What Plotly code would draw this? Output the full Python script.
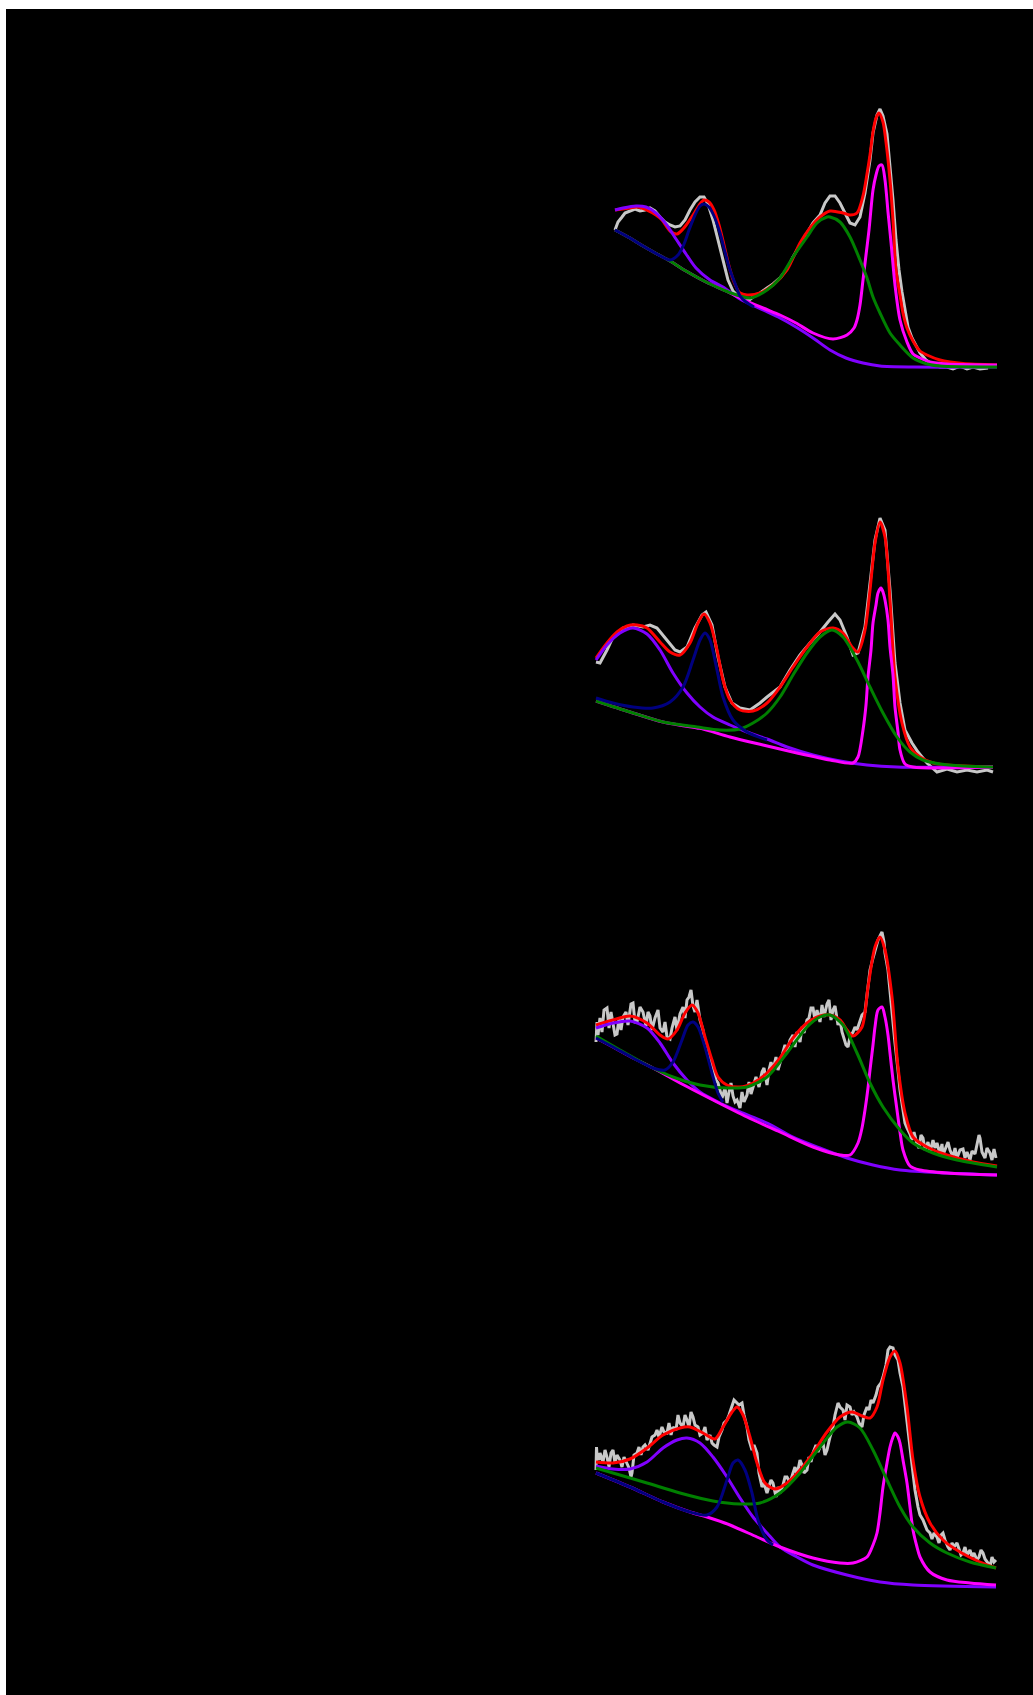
import plotly.graph_objects as go
from plotly.subplots import make_subplots

# ---------------- Panel 1 (channel, intensity a.u.) ----------------
p1_gray_ch = [19, 22, 26, 29, 34, 39, 44, 49, 54, 59, 64, 69, 74, 79, 84, 89, 94, 99, 104, 108, 112, 117, 122, 127, 132, 137, 142, 147, 152, 157, 164, 171, 177, 184, 191, 197, 204, 211, 217, 224, 229, 234, 239, 244, 249, 254, 259, 264, 269, 274, 277, 281, 284, 287, 291, 294, 297, 300, 303, 306, 309, 312, 316, 320, 324, 330, 337, 344, 351, 357, 364, 371, 377, 384, 392]
p1_gray_i = [140, 148, 153, 157, 159, 161, 159, 160, 162, 159, 153, 148, 145, 143, 144, 150, 160, 168, 173, 173, 166, 150, 130, 110, 90, 79, 74, 72, 69, 73, 77, 82, 86, 92, 101, 113, 125, 138, 147, 155, 167, 174, 174, 167, 157, 147, 145, 153, 177, 210, 237, 255, 261, 254, 236, 205, 170, 130, 100, 78, 58, 43, 32, 24, 17, 10, 5, 3, 3, 1, 4, 1, 3, 1, 2]
p1_red_ch = [19, 34, 41, 51, 60, 66, 74, 81, 87, 93, 99, 104, 108, 113, 118, 123, 128, 133, 138, 144, 151, 164, 177, 191, 204, 214, 224, 234, 247, 254, 261, 267, 271, 274, 277, 280, 283, 287, 290, 294, 297, 300, 304, 307, 311, 317, 324, 331, 344, 354, 367, 401]
p1_red_i = [160, 162, 163, 160, 155, 150, 139, 136, 141, 149, 158, 166, 170, 168, 160, 145, 125, 104, 88, 77, 75, 77, 85, 100, 127, 142, 153, 159, 157, 155, 157, 174, 196, 215, 238, 252, 257, 248, 228, 190, 150, 100, 75, 57, 42, 29, 19, 15, 10, 8, 6.5, 5]
p1_violet_ch = [19, 27, 40, 50, 60, 70, 80, 90, 100, 114, 127, 144, 167, 184, 200, 217, 234, 250, 267, 284, 317, 401]
p1_violet_i = [160, 162, 164, 163, 157, 146, 131, 116, 102, 90, 83, 71, 60, 52, 43, 32, 20, 12, 7, 4, 3, 3]
p1_navy_ch = [19, 34, 47, 61, 74, 82, 88, 93, 99, 104, 108, 113, 118, 124, 129, 134, 140, 144, 150, 158]
p1_navy_i = [140, 132, 124, 116, 110, 115, 126, 140, 155, 164, 166, 163, 154, 137, 118, 100, 84, 74, 68, 63]
p1_green_ch = [19, 34, 47, 61, 74, 90, 110, 130, 144, 154, 171, 184, 197, 211, 221, 231, 234, 244, 254, 264, 271, 277, 284, 294, 304, 317, 331, 344, 401]
p1_green_i = [140, 132, 124, 116, 109, 99, 88, 79, 74, 72, 80, 92, 113, 133, 147, 153, 153, 148, 133, 110, 92, 73, 57, 37, 25, 12, 6, 4, 3]
p1_magenta_ch = [19, 34, 47, 61, 74, 90, 110, 130, 144, 167, 184, 200, 217, 237, 251, 258, 261, 264, 267, 270, 273, 277, 280, 283, 286, 289, 292, 295, 299, 304, 311, 317, 324, 334, 351, 401]
p1_magenta_i = [140, 132, 124, 116, 109, 99, 88, 79, 72, 62, 55, 47, 37, 31, 35, 42, 50, 65, 90, 115, 140, 180, 195, 204, 205, 190, 158, 128, 85, 50, 28, 16, 12, 8, 6, 5]

# ---------------- Panel 2 ----------------
p2_gray_ch = [0, 4, 11, 17, 27, 37, 47, 54, 61, 71, 79, 84, 91, 99, 106, 110, 116, 122, 129, 136, 144, 154, 164, 171, 177, 184, 194, 204, 214, 224, 232, 239, 244, 251, 257, 262, 269, 274, 279, 284, 289, 294, 299, 304, 309, 316, 322, 331, 341, 351, 361, 371, 381, 391, 397]
p2_gray_i = [118, 117, 130, 143, 152, 155, 153, 155, 152, 140, 130, 128, 133, 152, 165, 168, 155, 123, 93, 77, 72, 70, 77, 83, 88, 93, 110, 125, 137, 148, 158, 166, 160, 143, 125, 127, 153, 197, 240, 262, 250, 190, 117, 77, 50, 37, 28, 17, 8, 11, 8, 10, 8, 10, 8]
p2_red_ch = [0, 11, 21, 31, 41, 51, 64, 74, 84, 94, 102, 108, 114, 121, 127, 134, 144, 157, 171, 184, 197, 211, 224, 237, 247, 256, 262, 269, 274, 279, 284, 289, 294, 299, 306, 314, 324, 337, 351, 397]
p2_red_i = [122, 137, 148, 154, 155, 152, 138, 128, 125, 137, 157, 166, 157, 130, 100, 80, 70, 69, 77, 93, 113, 133, 148, 152, 147, 133, 128, 150, 190, 237, 258, 243, 180, 103, 57, 33, 23, 17, 15, 13]
p2_violet_ch = [0, 11, 24, 37, 51, 64, 77, 91, 104, 117, 134, 151, 171, 191, 217, 244, 271, 301, 397]
p2_violet_i = [120, 135, 147, 152, 146, 130, 107, 87, 73, 63, 55, 48, 41, 33, 25, 19, 15, 13, 13]
p2_navy_ch = [0, 17, 37, 57, 74, 87, 97, 104, 109, 114, 121, 127, 137, 151, 171]
p2_navy_i = [82, 77, 73, 72, 78, 93, 120, 140, 147, 140, 110, 83, 60, 48, 40]
p2_green_ch = [0, 34, 67, 101, 124, 144, 157, 171, 184, 197, 211, 224, 236, 247, 261, 274, 287, 301, 314, 327, 344, 367, 397]
p2_green_i = [79, 68, 58, 53, 50, 51, 57, 67, 83, 105, 127, 143, 150, 143, 120, 93, 67, 43, 28, 20, 16, 14, 13]
p2_magenta_ch = [0, 34, 67, 101, 107, 134, 167, 201, 234, 257, 262, 267, 270, 272, 275, 277, 280, 282, 285, 287, 289, 292, 294, 297, 299, 302, 304, 309, 317, 397]
p2_magenta_i = [79, 68, 58, 52, 51, 43, 35, 27, 20, 17, 23, 50, 75, 103, 130, 157, 175, 187, 192, 188, 180, 160, 133, 105, 73, 48, 30, 16, 13, 13]

# ---------------- Panel 3 ----------------
p3_gray_ch = [0, 1, 2, 4, 6, 8, 11, 13, 15, 17,
              19, 21, 23, 25, 27, 30, 32, 35, 37, 39,
              41, 44, 47, 50, 52, 54, 56, 59, 62, 64,
              67, 69, 71, 74, 76, 79, 81, 84, 87, 89,
              91, 93, 95, 97, 99, 101, 104, 107, 109, 111,
              113, 115, 117, 120, 122, 124, 126, 129, 131, 133,
              135, 137, 139, 141, 144, 146, 148, 151, 153, 155,
              157, 160, 163, 166, 168, 171, 173, 175, 177, 180,
              182, 184, 187, 189, 191, 194, 197, 199, 201, 204,
              206, 208, 211, 213, 215, 217, 219, 221, 224, 226,
              228, 231, 233, 235, 237, 239, 242, 244, 246, 248,
              250, 252, 254, 257, 259, 261, 264, 266, 269, 272,
              274, 277, 279, 281, 282, 284, 286, 288, 289, 292,
              294, 297, 299, 302, 304, 307, 309, 311, 314, 316,
              318, 321, 323, 325, 327, 329, 332, 334, 337, 339,
              341, 344, 346, 347, 350, 352, 354, 357, 359, 361,
              364, 367, 369, 371, 374, 376, 379, 381, 383, 384,
              386, 389, 391, 394, 396, 398, 400]
p3_gray_i = [138, 158, 145, 162, 148, 170, 172, 152, 168, 158,
             145, 146, 162, 150, 163, 168, 155, 176, 177, 158,
             158, 173, 168, 154, 168, 164, 150, 162, 170, 152,
             148, 158, 143, 141, 152, 163, 150, 166, 173, 162,
             180, 183, 190, 174, 168, 180, 160, 150, 138, 133,
             125, 117, 113, 100, 97, 90, 82, 92, 77, 88,
             97, 84, 78, 80, 72, 88, 78, 85, 98, 86,
             92, 103, 93, 108, 112, 95, 110, 118, 110, 123,
             110, 118, 128, 135, 128, 140, 145, 133, 148, 138,
             153, 147, 160, 162, 172, 172, 160, 170, 158, 175,
             163, 176, 180, 160, 170, 174, 155, 160, 148, 140,
             135, 133, 143, 148, 153, 150, 160, 165, 168, 190,
             210, 222, 230, 238, 240, 244, 248, 238, 227, 210,
             187, 160, 137, 110, 90, 70, 57, 52, 46, 40,
             48, 36, 32, 45, 42, 30, 38, 28, 40, 32,
             37, 26, 36, 25, 33, 38, 30, 23, 32, 22,
             30, 31, 22, 28, 20, 29, 26, 35, 45, 42,
             28, 22, 32, 27, 20, 31, 22]
p3_red_ch = [0, 17, 34, 51, 64, 72, 81, 89, 96, 102, 109, 116, 122, 131, 144, 157, 171, 184, 197, 211, 224, 234, 244, 251, 257, 266, 272, 279, 284, 289, 296, 302, 309, 317, 331, 351, 377, 401]
p3_red_i = [155, 160, 164, 157, 145, 141, 150, 167, 175, 167, 143, 120, 103, 95, 93, 97, 107, 122, 142, 157, 164, 165, 160, 150, 144, 153, 193, 233, 243, 230, 183, 113, 67, 43, 33, 25, 18, 14]
p3_violet_ch = [0, 17, 34, 51, 64, 77, 91, 104, 124, 144, 171, 197, 224, 251, 277, 304, 351, 401]
p3_violet_i = [152, 157, 159, 152, 137, 117, 100, 88, 77, 68, 57, 43, 32, 22, 15, 10, 7, 5]
p3_navy_ch = [0, 17, 37, 57, 69, 77, 86, 92, 97, 102, 109, 116, 122, 127]
p3_navy_i = [142, 133, 122, 112, 110, 118, 140, 155, 158, 153, 133, 107, 87, 78]
p3_green_ch = [0, 24, 51, 77, 104, 131, 151, 171, 191, 211, 224, 234, 247, 261, 274, 287, 304, 317, 337, 361, 401]
p3_green_i = [144, 130, 115, 103, 95, 92, 93, 103, 127, 153, 163, 165, 155, 127, 97, 73, 50, 37, 27, 20, 13]
p3_magenta_ch = [0, 17, 37, 57, 84, 117, 151, 184, 217, 244, 254, 262, 266, 269, 272, 274, 277, 279, 282, 286, 289, 292, 294, 297, 301, 304, 307, 314, 324, 351, 401]
p3_magenta_i = [142, 133, 122, 112, 97, 80, 63, 48, 33, 25, 25, 37, 52, 70, 92, 110, 135, 153, 170, 173, 163, 145, 127, 100, 70, 48, 30, 14, 10, 7, 5]

# ---------------- Panel 4 ----------------
p4_gray_ch = [0, 0.5, 1, 3, 4, 7, 9, 11, 13, 15, 17, 19, 21, 24, 26, 28, 31, 33, 35, 36, 38, 41, 43, 45, 47, 49, 52, 54, 56, 59, 61, 63, 66, 68, 71, 73, 75, 77, 80, 82, 84, 87, 89, 91, 93, 95, 97, 99, 102, 104, 107, 109, 111, 114, 116, 118, 121, 123, 126, 128, 131, 133, 136, 138, 141, 143, 146, 148, 151, 153, 156, 158, 161, 163, 166, 168, 171, 173, 175, 177, 180, 182, 184, 187, 189, 191, 194, 197, 199, 201, 204, 206, 208, 211, 213, 215, 217, 220, 222, 224, 227, 229, 231, 234, 237, 239, 242, 244, 247, 249, 251, 254, 256, 258, 261, 263, 266, 268, 271, 273, 275, 277, 280, 282, 285, 287, 290, 292, 294, 297, 299, 302, 304, 307, 309, 312, 314, 317, 319, 322, 324, 327, 329, 331, 334, 336, 338, 341, 343, 345, 347, 349, 352, 354, 356, 358, 361, 363, 365, 367, 369, 371, 374, 376, 378, 381, 383, 385, 387, 389, 392, 394, 396, 398, 400]
p4_gray_i = [125, 148, 140, 135, 142, 133, 145, 138, 128, 142, 145, 132, 140, 135, 128, 138, 132, 127, 118, 122, 140, 142, 148, 140, 148, 150, 145, 152, 158, 160, 165, 158, 168, 163, 162, 172, 160, 168, 165, 180, 172, 168, 180, 175, 168, 183, 178, 170, 168, 160, 162, 168, 155, 160, 152, 150, 148, 158, 165, 172, 175, 180, 188, 195, 192, 190, 192, 180, 168, 155, 145, 150, 142, 122, 108, 112, 102, 108, 115, 112, 98, 108, 102, 110, 118, 118, 112, 122, 128, 120, 135, 130, 122, 125, 138, 133, 142, 150, 143, 148, 152, 140, 145, 158, 168, 180, 192, 188, 185, 175, 190, 188, 180, 183, 178, 172, 168, 180, 188, 185, 195, 192, 200, 208, 212, 218, 230, 245, 248, 247, 240, 235, 222, 208, 190, 168, 145, 118, 105, 88, 80, 75, 70, 65, 62, 56, 62, 58, 52, 60, 62, 55, 48, 45, 52, 48, 52, 45, 40, 42, 48, 40, 45, 38, 42, 35, 38, 45, 42, 36, 32, 28, 38, 33, 35]
p4_red_ch = [0, 17, 34, 51, 67, 84, 94, 107, 119, 127, 136, 141, 147, 154, 161, 169, 179, 191, 204, 217, 231, 244, 256, 266, 274, 281, 287, 294, 299, 304, 311, 317, 324, 334, 347, 364, 384, 400]
p4_red_i = [133, 132, 136, 147, 160, 167, 168, 162, 156, 168, 183, 188, 180, 158, 132, 112, 106, 112, 125, 142, 163, 178, 183, 179, 177, 188, 215, 238, 244, 232, 188, 135, 98, 72, 55, 43, 33, 27]
p4_violet_ch = [0, 17, 34, 51, 67, 81, 91, 104, 117, 131, 144, 157, 171, 184, 201, 217, 251, 284, 317, 400]
p4_violet_i = [129, 126, 126, 133, 147, 155, 157, 152, 138, 118, 97, 78, 62, 48, 38, 30, 20, 13, 10, 8]
p4_navy_ch = [0, 34, 67, 94, 111, 121, 131, 137, 142, 149, 156, 162, 171, 177]
p4_navy_i = [122, 108, 93, 83, 80, 88, 115, 132, 135, 125, 102, 75, 55, 50]
p4_green_ch = [0, 17, 51, 84, 117, 144, 164, 184, 204, 224, 241, 252, 264, 277, 291, 304, 317, 334, 351, 374, 400]
p4_green_i = [127, 122, 112, 102, 94, 91, 92, 102, 122, 148, 168, 173, 167, 145, 115, 88, 68, 52, 42, 33, 27]
p4_magenta_ch = [0, 34, 67, 94, 111, 134, 161, 184, 217, 244, 257, 271, 277, 281, 284, 287, 291, 294, 297, 299, 302, 304, 307, 311, 314, 317, 321, 324, 334, 351, 374, 400]
p4_magenta_i = [122, 108, 93, 83, 78, 70, 58, 48, 37, 32, 32, 38, 50, 62, 82, 108, 132, 148, 158, 162, 158, 152, 135, 112, 88, 65, 48, 38, 23, 15, 12, 10]

# axis ranges (channel / a.u.) for the four stacked panels
x_range = [-590, 437]
y_ranges = [[-60.5, 361], [-72, 349.5], [-93.5, 328], [-100, 321.5]]

panels = [
    dict(gray=(p1_gray_ch, p1_gray_i), red=(p1_red_ch, p1_red_i), violet=(p1_violet_ch, p1_violet_i),
         magenta=(p1_magenta_ch, p1_magenta_i), green=(p1_green_ch, p1_green_i), navy=(p1_navy_ch, p1_navy_i)),
    dict(gray=(p2_gray_ch, p2_gray_i), red=(p2_red_ch, p2_red_i), violet=(p2_violet_ch, p2_violet_i),
         magenta=(p2_magenta_ch, p2_magenta_i), green=(p2_green_ch, p2_green_i), navy=(p2_navy_ch, p2_navy_i)),
    dict(gray=(p3_gray_ch, p3_gray_i), red=(p3_red_ch, p3_red_i), violet=(p3_violet_ch, p3_violet_i),
         magenta=(p3_magenta_ch, p3_magenta_i), green=(p3_green_ch, p3_green_i), navy=(p3_navy_ch, p3_navy_i)),
    dict(gray=(p4_gray_ch, p4_gray_i), red=(p4_red_ch, p4_red_i), violet=(p4_violet_ch, p4_violet_i),
         magenta=(p4_magenta_ch, p4_magenta_i), green=(p4_green_ch, p4_green_i), navy=(p4_navy_ch, p4_navy_i)),
]

styles = {
    "gray": dict(color="#c8c8c8", width=3, shape="linear"),
    "red": dict(color="#ff0000", width=3, shape="spline"),
    "violet": dict(color="#8000ff", width=3, shape="spline"),
    "magenta": dict(color="#ff00ff", width=3, shape="spline"),
    "green": dict(color="#008000", width=3, shape="spline"),
    "navy": dict(color="#000080", width=3, shape="spline"),
}
order = ["gray", "red", "violet", "magenta", "green", "navy"]

fig = make_subplots(rows=4, cols=1, vertical_spacing=0)
for r, p in enumerate(panels, start=1):
    for key in order:
        xs, ys = p[key]
        st = styles[key]
        line = dict(color=st["color"], width=st["width"], shape=st["shape"])
        if st["shape"] == "spline":
            line["smoothing"] = 0.8
        fig.add_trace(go.Scatter(x=xs, y=ys, mode="lines", line=line, hoverinfo="skip", name=key),
                      row=r, col=1)
    fig.update_yaxes(range=y_ranges[r - 1], visible=False, row=r, col=1)
    fig.update_xaxes(range=x_range, visible=False, row=r, col=1)

fig.update_layout(
    width=1033, height=1695,
    margin=dict(l=6, r=0, t=9, b=0),
    paper_bgcolor="white",
    plot_bgcolor="black",
    showlegend=False,
    shapes=[dict(type="rect", xref="paper", yref="paper", x0=0, x1=1, y0=0, y1=1,
                 fillcolor="black", line=dict(width=0), layer="below")],
)

fig.write_html(
    "out.html",
    config={"displayModeBar": False},
    post_script="document.body.style.margin='0px';document.body.style.overflow='hidden';",
)
